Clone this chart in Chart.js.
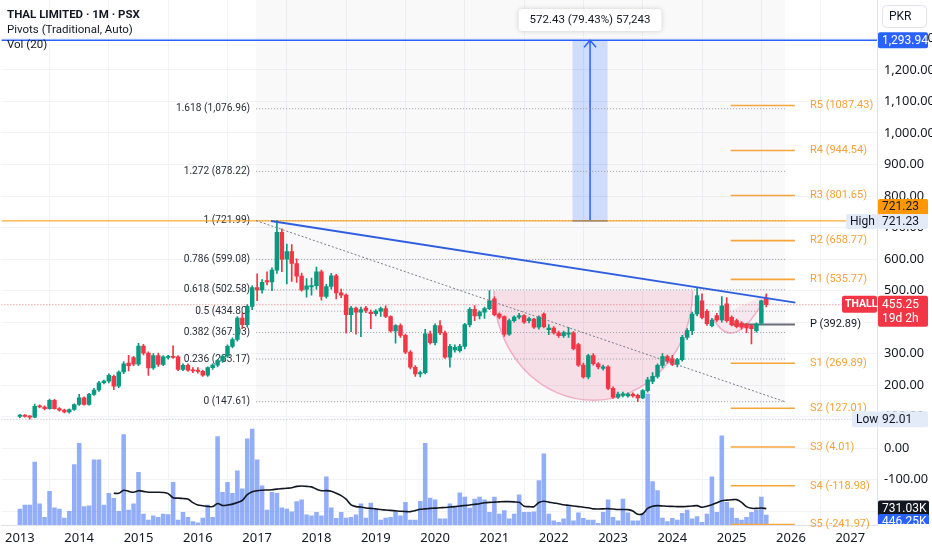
<!DOCTYPE html>
<html>
<head>
<meta charset="utf-8">
<script src="https://cdn.jsdelivr.net/npm/chart.js@4.4.1/dist/chart.umd.min.js"></script>
<style>
  html, body { margin: 0; padding: 0; background: #fff; }
  canvas { display: block; }
</style>
</head>
<body>
<canvas id="chart" width="932" height="550"></canvas>
<script>
// THAL LIMITED, monthly candles from Jan 2013 (index 0 = Jan 2013)
const firstYear = 2013;
const yearLabels = [2013, 2014, 2015, 2016, 2017, 2018, 2019, 2020, 2021, 2022, 2023, 2024, 2025, 2026, 2027];
const priceTicks = [-200, -100, 0, 100, 200, 300, 400, 500, 600, 700, 800, 900, 1000, 1100, 1200, 1300];

const opens = [
    101, 105, 101, 99, 133, 131, 126, 152, 126, 121,
    115, 123, 139, 160, 139, 171, 185, 208, 213, 228,
    197, 242, 270, 288, 267, 324, 302, 255, 294, 266,
    288, 292, 290, 250, 263, 248, 246, 244, 232, 256,
    264, 278, 292, 323, 345, 413, 392, 450, 510, 502,
    532, 528, 565, 685, 600, 624, 586, 546, 505, 512,
    516, 560, 482, 513, 547, 493, 486, 424, 445, 432,
    445, 432, 427, 435, 443, 418, 372, 389, 358, 305,
    257, 236, 240, 363, 335, 389, 366, 289, 312, 310,
    323, 392, 441, 420, 432, 443, 474, 426, 418, 362,
    405, 416, 421, 405, 410, 384, 426, 376, 381, 366,
    357, 362, 366, 329, 264, 226, 294, 268, 253, 258,
    190, 162, 168, 166, 172, 168, 160, 183, 212, 228,
    263, 291, 284, 266, 281, 352, 373, 426, 468, 434,
    389, 421, 407, 458, 415, 405, 397, 392, 389, 373,
    397, 477
];
const highs = [
    108, 107, 103, 140, 138, 135, 156, 155, 129, 124,
    125, 141, 171, 163, 174, 190, 212, 216, 236, 232,
    246, 275, 295, 292, 333, 330, 306, 300, 302, 294,
    295, 325, 294, 268, 268, 256, 256, 248, 258, 268,
    282, 296, 328, 350, 418, 429, 456, 515, 553, 535,
    560, 572, 721.99, 696, 648, 646, 601, 556, 538, 540,
    575, 565, 520, 555, 552, 505, 490, 450, 448, 448,
    450, 438, 440, 448, 452, 420, 392, 395, 362, 310,
    262, 245, 377, 372, 395, 405, 372, 330, 328, 330,
    396, 446, 453, 436, 448, 500, 480, 430, 420, 410,
    420, 428, 424, 416, 412, 420, 430, 392, 386, 372,
    372, 384, 370, 333, 270, 298, 300, 272, 264, 262,
    195, 178, 178, 176, 176, 172, 186, 225, 240, 268,
    300, 296, 295, 285, 358, 380, 432, 510, 490, 440,
    412, 428, 481, 478, 420, 410, 402, 396, 392, 398,
    470, 490
];
const lows = [
    97, 99, 92.01, 97, 128, 122, 124, 124, 118, 112,
    111, 120, 136, 137, 137, 168, 180, 204, 207, 186,
    192, 237, 245, 262, 262, 296, 231, 250, 260, 262,
    283, 285, 246, 246, 244, 240, 238, 228, 228, 250,
    258, 272, 288, 318, 340, 380, 386, 440, 468, 492,
    518, 500, 555, 560, 521, 529, 526, 498, 479, 486,
    505, 470, 476, 505, 474, 478, 365, 370, 362, 354,
    430, 379, 420, 418, 414, 368, 333, 352, 300, 252,
    228, 226, 236, 330, 328, 360, 285, 257, 305, 305,
    315, 385, 405, 410, 412, 440, 420, 410, 355, 358,
    400, 410, 396, 398, 380, 378, 382, 360, 362, 352,
    352, 352, 312, 260, 222, 220, 264, 252, 248, 186,
    158, 158, 163, 162, 162, 147.61, 157, 178, 205, 222,
    255, 270, 262, 258, 276, 345, 360, 420, 410, 390,
    385, 402, 400, 400, 388, 382, 378, 367, 331, 368,
    392, 448
];
const closes = [
    105, 101, 99, 133, 131, 126, 152, 126, 121, 115,
    123, 139, 160, 139, 171, 185, 208, 213, 231, 197,
    242, 268, 262, 267, 324, 302, 255, 294, 266, 290,
    292, 288, 250, 263, 248, 245, 244, 232, 256, 264,
    278, 292, 323, 345, 413, 392, 450, 510, 502, 526,
    528, 565, 685, 600, 624, 586, 546, 502, 515, 516,
    560, 482, 513, 547, 493, 486, 424, 445, 432, 440,
    437, 427, 435, 443, 418, 372, 389, 358, 305, 257,
    236, 240, 363, 335, 389, 366, 289, 323, 320, 323,
    392, 441, 420, 432, 443, 468, 424, 416, 362, 405,
    416, 421, 400, 411, 384, 416, 386, 381, 366, 357,
    367, 366, 316, 264, 226, 294, 268, 258, 258, 190,
    162, 172, 173, 172, 166, 160, 183, 217, 228, 263,
    291, 276, 266, 281, 352, 373, 426, 484, 415, 395,
    407, 407, 452, 405, 392, 386, 384, 382, 379, 394,
    468, 455.25
];
// monthly volume, thousands of shares
const volumes = [
    710, 890, 890, 2800, 940, 340, 1500, 760, 710, 310,
    610, 2690, 3640, 820, 860, 2910, 2910, 890, 1410, 1190,
    610, 4030, 670, 940, 2350, 490, 220, 410, 340, 490,
    460, 1900, 220, 570, 340, 150, 100, 310, 890, 340,
    3940, 1460, 1900, 1410, 2420, 1610, 3840, 4280, 2910, 1750,
    670, 1460, 1410, 760, 710, 590, 1040, 1120, 450, 410,
    570, 410, 2150, 760, 300, 570, 310, 340, 450, 940,
    310, 980, 680, 220, 310, 340, 570, 410, 1010, 220,
    220, 1060, 3640, 1200, 1120, 270, 270, 940, 820, 1430,
    1240, 750, 1160, 1240, 1120, 570, 1240, 490, 640, 270,
    490, 1340, 570, 570, 590, 1980, 3170, 490, 190, 120,
    270, 860, 190, 540, 300, 220, 220, 80, 570, 1120,
    340, 190, 1160, 540, 190, 190, 490, 5840, 1930, 1530,
    310, 150, 300, 220, 520, 670, 270, 370, 120, 490,
    2150, 570, 3980, 1010, 750, 300, 220, 340, 570, 670,
    1240, 446.25
];
// Vol (20) moving average, thousands
const volumeMA = [
    null, null, null, null, null, null, null, null, null, null,
    null, null, null, null, null, null, null, null, null, 1414,
    1414, 1550, 1500, 1460, 1530, 1500, 1460, 1460, 1460, 1450,
    1400, 1210, 1200, 1180, 1160, 1000, 890, 860, 830, 820,
    960, 870, 890, 930, 1000, 1100, 1350, 1480, 1530, 1550,
    1560, 1570, 1600, 1620, 1640, 1660, 1720, 1740, 1720, 1700,
    1600, 1530, 1530, 1500, 1420, 1310, 1150, 900, 820, 800,
    760, 740, 720, 690, 670, 650, 630, 610, 600, 595,
    640, 700, 720, 740, 750, 770, 780, 800, 818, 850,
    870, 890, 920, 950, 990, 1010, 1020, 1030, 1040, 1040,
    1030, 1010, 840, 820, 818, 1000, 1056, 1020, 981, 950,
    900, 880, 850, 820, 790, 770, 720, 714, 720, 729,
    710, 690, 690, 684, 620, 480, 500, 740, 840, 862,
    850, 835, 830, 820, 818, 830, 845, 862, 788, 840,
    907, 990, 1085, 1110, 1125, 1130, 1010, 818, 743, 740,
    760, 731.03
];

// Fibonacci retracement levels
const fibRatios = ['1.618', '1.272', '1', '0.786', '0.618', '0.5', '0.382', '0.236', '0'];
const fibPrices = [1076.96, 878.22, 721.99, 599.08, 502.58, 434.80, 367.03, 283.17, 147.61];
// Pivots (Traditional, Auto)
const pivotNames = ['R5', 'R4', 'R3', 'R2', 'R1', 'P', 'S1', 'S2', 'S3', 'S4', 'S5'];
const pivotPrices = [1087.43, 944.54, 801.65, 658.77, 535.77, 392.89, 269.89, 127.01, 4.01, -118.98, -241.97];

const lastPrice = 455.25;
const highPrice = 721.23;
const lowPrice = 92.01;
const targetPrice = 1293.94;
const measureBase = 721.51;
const measureLabel = '572.43 (79.43%) 57,243';

// drawing tool anchors, [month index, price]
const fibSpan = [47.8, 154.8];
const pivotSpan = [143.8, 156.8];
const resistanceLine = [[50.8, 721], [156.9, 462]];
const fibDiagonal = [[47.8, 721.99], [154.8, 147.61]];
const measureSpan = [111.8, 118.9];
const cupArc = { from: 95.9, to: 136.1, rim: 500, bottom: 152 };
const handleArc = [[140.3, 411], [145.1, 370], [151.2, 490]];

const upColor = '#089981';
const downColor = '#f23645';
const orange = '#ff9800';
const blue = '#2962ff';
const textColor = '#131722';
const axisFont = "'Noto Sans', 'DejaVu Sans', sans-serif";
const labelFont = "Roboto, 'Noto Sans', sans-serif";

const xMin = -3.74, xMax = 173.4;
const yMin = -243.3, yMax = 1421.8;
const volMax = 23400;

Chart.defaults.font.family = axisFont;

const months = opens.map((_, i) => i);
const candleColors = months.map(i => closes[i] >= opens[i] ? upColor : downColor);

function fmt(v) {
    return v.toLocaleString('en-US', { minimumFractionDigits: 2, maximumFractionDigits: 2 });
}

// Horizontal/segment line as a line dataset
function segment(points, color, width, dash, order) {
    return {
        type: 'line',
        data: points.map(p => ({ x: p[0], y: p[1] })),
        borderColor: color,
        borderWidth: width,
        borderDash: dash || [],
        pointRadius: 0,
        fill: false,
        tension: 0,
        yAxisID: 'y',
        order: order
    };
}

const datasets = [];

// volume + MA
datasets.push({
    type: 'bar',
    data: months.map(i => ({ x: i, y: volumes[i] })),
    backgroundColor: 'rgba(80,125,245,0.62)',
    barThickness: 3.9,
    grouped: false,
    yAxisID: 'yv',
    order: 20
});
datasets.push({
    type: 'line',
    data: months.filter(i => volumeMA[i] !== null).map(i => ({ x: i, y: volumeMA[i] })),
    borderColor: textColor,
    borderWidth: 1.6,
    pointRadius: 0,
    tension: 0.3,
    yAxisID: 'yv',
    order: 19
});

// fib levels (dotted)
fibPrices.forEach(p => {
    datasets.push(segment([[fibSpan[0], p], [fibSpan[1], p]], '#9598a1', 1, [1, 2], 15));
});
// low and current price lines across the chart
datasets.push(segment([[xMin, lowPrice], [xMax, lowPrice]], '#b2b5be', 1, [1, 2], 14));
datasets.push(segment([[xMin, lastPrice], [xMax, lastPrice]], 'rgba(242,54,69,0.7)', 1, [1, 2], 14));
datasets.push(segment([[xMin, highPrice], [xMax, highPrice]], orange, 1, [], 13));

// pivot segments
pivotPrices.forEach((p, i) => {
    const isP = pivotNames[i] === 'P';
    datasets.push(segment([[pivotSpan[0], p], [pivotSpan[1], p]], isP ? '#6a6d78' : '#f7a53d', isP ? 2 : 1.6, [], 12));
});

// candles: wicks then bodies
datasets.push({
    type: 'bar',
    data: months.map(i => ({ x: i, y: [lows[i], highs[i]] })),
    backgroundColor: candleColors,
    barThickness: 1,
    grouped: false,
    yAxisID: 'y',
    order: 6
});
datasets.push({
    type: 'bar',
    data: months.map(i => ({ x: i, y: [Math.min(opens[i], closes[i]), Math.max(opens[i], closes[i])] })),
    backgroundColor: candleColors,
    barThickness: 3.8,
    minBarLength: 1.2,
    grouped: false,
    yAxisID: 'y',
    order: 5
});

// trend lines and target
datasets.push(segment(fibDiagonal, '#787b86', 1, [2, 2], 3));
datasets.push(segment(resistanceLine, '#2f5fe0', 2, [], 2));
datasets.push(segment([[xMin, targetPrice], [xMax, targetPrice]], blue, 1.5, [], 1));

function roundRect(ctx, x, y, w, h, r) {
    ctx.beginPath();
    ctx.moveTo(x + r, y);
    ctx.lineTo(x + w - r, y);
    ctx.quadraticCurveTo(x + w, y, x + w, y + r);
    ctx.lineTo(x + w, y + h - r);
    ctx.quadraticCurveTo(x + w, y + h, x + w - r, y + h);
    ctx.lineTo(x + r, y + h);
    ctx.quadraticCurveTo(x, y + h, x, y + h - r);
    ctx.lineTo(x, y + r);
    ctx.quadraticCurveTo(x, y, x + r, y);
    ctx.closePath();
}

function tag(ctx, x, y, w, h, bg, fg, text, bold) {
    ctx.fillStyle = bg;
    roundRect(ctx, x, y, w, h, 2);
    ctx.fill();
    ctx.fillStyle = fg;
    ctx.font = (bold ? 'bold 10.5px ' : '12px ') + labelFont;
    ctx.textAlign = 'left';
    ctx.textBaseline = 'middle';
    ctx.fillText(text, x + (bold ? 3 : 4), y + h / 2 + 0.5);
}

const overlayPlugin = {
    id: 'overlay',
    beforeDatasetsDraw(chart) {
        const { ctx, chartArea } = chart;
        const x = chart.scales.x, y = chart.scales.y;
        ctx.save();

        // fib background
        const fx0 = x.getPixelForValue(fibSpan[0]);
        const fx1 = x.getPixelForValue(fibSpan[1]);
        ctx.fillStyle = 'rgba(120,123,134,0.045)';
        ctx.fillRect(fx0, chartArea.top, fx1 - fx0, y.getPixelForValue(fibPrices[fibPrices.length - 1]) - chartArea.top);

        // fib labels
        ctx.font = '10.2px ' + labelFont;
        ctx.fillStyle = '#2a2e39';
        ctx.textAlign = 'right';
        ctx.textBaseline = 'middle';
        fibPrices.forEach((p, i) => {
            ctx.fillText(fibRatios[i] + ' (' + fmt(p) + ')', fx0 - 6, y.getPixelForValue(p));
        });

        // measure box
        const mx0 = x.getPixelForValue(measureSpan[0]);
        const mx1 = x.getPixelForValue(measureSpan[1]);
        const myTop = y.getPixelForValue(targetPrice);
        const myBot = y.getPixelForValue(measureBase);
        ctx.fillStyle = 'rgba(41,98,255,0.2)';
        ctx.fillRect(mx0, myTop, mx1 - mx0, myBot - myTop);
        const mc = (mx0 + mx1) / 2;
        ctx.strokeStyle = blue;
        ctx.lineWidth = 1.5;
        ctx.beginPath();
        ctx.moveTo(mc, myBot);
        ctx.lineTo(mc, myTop);
        ctx.moveTo(mc - 6, myTop + 7);
        ctx.lineTo(mc, myTop);
        ctx.lineTo(mc + 6, myTop + 7);
        ctx.stroke();
        ctx.beginPath();
        ctx.moveTo(mx0, myBot);
        ctx.lineTo(mx1, myBot);
        ctx.stroke();

        // cup
        const cl = x.getPixelForValue(cupArc.from);
        const cr = x.getPixelForValue(cupArc.to);
        const rimY = y.getPixelForValue(cupArc.rim);
        const botY = y.getPixelForValue(cupArc.bottom);
        ctx.beginPath();
        ctx.ellipse((cl + cr) / 2, rimY, (cr - cl) / 2, botY - rimY, 0, 0, Math.PI);
        ctx.closePath();
        ctx.fillStyle = 'rgba(233,30,99,0.12)';
        ctx.fill();
        ctx.beginPath();
        ctx.ellipse((cl + cr) / 2, rimY, (cr - cl) / 2, botY - rimY, 0, 0, Math.PI);
        ctx.strokeStyle = 'rgba(233,30,99,0.3)';
        ctx.lineWidth = 1.5;
        ctx.stroke();

        // handle
        const hp = handleArc.map(p => [x.getPixelForValue(p[0]), y.getPixelForValue(p[1])]);
        const cx = 2 * hp[1][0] - (hp[0][0] + hp[2][0]) / 2;
        const cy = 2 * hp[1][1] - (hp[0][1] + hp[2][1]) / 2;
        ctx.beginPath();
        ctx.moveTo(hp[0][0], hp[0][1]);
        ctx.quadraticCurveTo(cx, cy, hp[2][0], hp[2][1]);
        ctx.fillStyle = 'rgba(233,30,99,0.08)';
        ctx.fill();
        ctx.stroke();

        ctx.restore();
    },
    afterDraw(chart) {
        const { ctx, chartArea } = chart;
        const x = chart.scales.x, y = chart.scales.y;
        ctx.save();

        // price scale labels
        ctx.font = '12.8px ' + axisFont;
        ctx.fillStyle = textColor;
        ctx.textAlign = 'left';
        ctx.textBaseline = 'middle';
        priceTicks.forEach(v => {
            ctx.fillText(fmt(v), chartArea.right + 7, y.getPixelForValue(v));
        });

        // pivot labels
        ctx.font = '11px ' + labelFont;
        const px = x.getPixelForValue(pivotSpan[1]) + 15;
        pivotPrices.forEach((p, i) => {
            ctx.fillStyle = pivotNames[i] === 'P' ? textColor : '#f7a23b';
            ctx.fillText(pivotNames[i] + ' (' + p.toFixed(2) + ')', px, y.getPixelForValue(p));
        });

        // header
        ctx.fillStyle = textColor;
        ctx.font = 'bold 11.5px ' + labelFont;
        ctx.fillText('THAL LIMITED · 1M · PSX', 7, 15);
        ctx.font = '11.5px ' + labelFont;
        ctx.fillText('Pivots (Traditional, Auto)', 7, 30);
        ctx.fillText('Vol (20)', 7, 45);

        // measure label
        const mc = (x.getPixelForValue(measureSpan[0]) + x.getPixelForValue(measureSpan[1])) / 2;
        ctx.font = '11.5px ' + labelFont;
        const mw = ctx.measureText(measureLabel).width + 22;
        ctx.shadowColor = 'rgba(0,0,0,0.18)';
        ctx.shadowBlur = 5;
        ctx.fillStyle = '#fff';
        roundRect(ctx, mc - mw / 2, 9, mw, 22, 4);
        ctx.fill();
        ctx.shadowBlur = 0;
        ctx.shadowColor = 'transparent';
        ctx.fillStyle = textColor;
        ctx.textAlign = 'center';
        ctx.fillText(measureLabel, mc, 20.5);

        // price scale tags
        const ax = chartArea.right + 1;
        ctx.fillStyle = '#fff';
        ctx.strokeStyle = '#e0e3eb';
        ctx.lineWidth = 1;
        roundRect(ctx, ax + 4.5, 5.5, 44, 22, 4);
        ctx.fill();
        ctx.stroke();
        ctx.fillStyle = textColor;
        ctx.textAlign = 'left';
        ctx.font = '12px ' + labelFont;
        ctx.fillText('PKR', ax + 11, 17);

        const yT = y.getPixelForValue(targetPrice);
        tag(ctx, ax, yT - 8, 50, 16, blue, '#fff', fmt(targetPrice));

        const yH = y.getPixelForValue(highPrice);
        tag(ctx, ax, yH - 22, 50, 16, orange, textColor, fmt(highPrice));
        tag(ctx, chartArea.right - 31, yH - 7, 31, 15, '#e3ebf8', textColor, 'High');
        tag(ctx, ax, yH - 7, 50, 15, '#e3ebf8', textColor, fmt(highPrice));

        const yL = y.getPixelForValue(lastPrice);
        tag(ctx, chartArea.right - 35, yL - 9, 35, 17, downColor, '#fff', 'THALL', true);
        ctx.fillStyle = downColor;
        roundRect(ctx, ax, yL - 9, 50, 31, 2);
        ctx.fill();
        ctx.fillStyle = '#fff';
        ctx.font = '12px ' + labelFont;
        ctx.fillText(fmt(lastPrice), ax + 4, yL);
        ctx.fillText('19d 2h', ax + 4, yL + 14);

        const yLo = y.getPixelForValue(lowPrice);
        tag(ctx, chartArea.right - 25, yLo - 8, 25, 16, '#e3ebf8', textColor, 'Low');
        tag(ctx, ax, yLo - 8, 50, 16, '#e3ebf8', textColor, fmt(lowPrice));

        const yv = chart.scales.yv;
        const yMA = yv.getPixelForValue(volumeMA[volumeMA.length - 1]);
        tag(ctx, ax, yMA - 8, 51, 16, textColor, '#fff', '731.03K');
        ctx.save();
        ctx.beginPath();
        ctx.rect(ax, 0, 60, chartArea.bottom - 1);
        ctx.clip();
        const yVol = yv.getPixelForValue(volumes[volumes.length - 1]);
        tag(ctx, ax, yVol - 1, 51, 16, blue, '#fff', '446.25K');
        ctx.restore();

        ctx.restore();
    }
};

new Chart(document.getElementById('chart'), {
    type: 'bar',
    data: { datasets: datasets },
    options: {
        responsive: false,
        animation: false,
        layout: { padding: 0 },
        plugins: {
            legend: { display: false },
            tooltip: { enabled: false }
        },
        scales: {
            x: {
                type: 'linear',
                min: xMin,
                max: xMax,
                offset: false,
                grid: { color: '#f2f3f6', drawTicks: false },
                border: { color: '#e0e3eb' },
                ticks: {
                    padding: 5,
                    color: textColor,
                    font: { size: 13 },
                    maxRotation: 0,
                    autoSkip: false,
                    callback: v => String(firstYear + Math.round(v / 12))
                },
                afterBuildTicks: s => { s.ticks = yearLabels.map(yr => ({ value: (yr - firstYear) * 12 })); },
                afterFit: s => { s.height = 25; }
            },
            y: {
                type: 'linear',
                position: 'right',
                min: yMin,
                max: yMax,
                grid: { color: '#f2f3f6', drawTicks: false },
                border: { color: '#e0e3eb' },
                ticks: { display: false },
                afterBuildTicks: s => { s.ticks = priceTicks.map(v => ({ value: v })); },
                afterFit: s => { s.width = 55; }
            },
            yv: {
                type: 'linear',
                display: false,
                min: 0,
                max: volMax
            }
        }
    },
    plugins: [overlayPlugin]
});
</script>
</body>
</html>
